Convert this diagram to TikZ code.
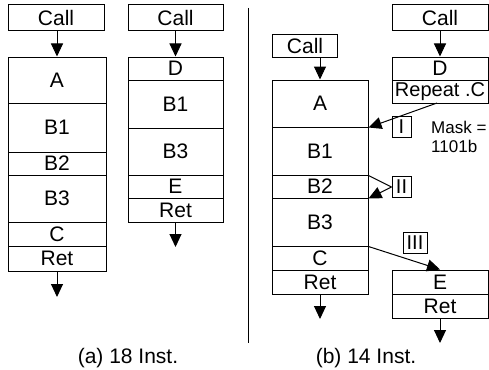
\documentclass[tikz,border=0pt]{standalone}
\usepackage{fontspec}
\setmainfont{Liberation Sans}
\usetikzlibrary{arrows.meta}
\begin{document}
\begin{tikzpicture}[x=1pt,y=-1pt,
  seg/.style={draw, line width=1pt, rectangle, inner sep=0pt, font=\fontsize{21}{22}\selectfont},
  tag/.style={draw, line width=1pt, rectangle, inner sep=0pt, minimum width=19pt, minimum height=21pt, font=\fontsize{20}{21}\selectfont},
  flow/.style={line width=1pt, -{Triangle[length=13pt,width=12pt]}},
  conn/.style={line width=1pt},
  captxt/.style={font=\fontsize{21}{22}\selectfont},
  masktxt/.style={font=\fontsize{17}{18}\selectfont, anchor=west, inner sep=0pt}]
\useasboundingbox (0,0) rectangle (489,369);
% ---------- (a) left stack
\node[seg, minimum width=96pt, minimum height=26pt] (ac) at (56,18) {Call};
\node[seg, minimum width=98pt, minimum height=46pt] (aA) at (57,80) {A};
\node[seg, minimum width=98pt, minimum height=49pt] (aB1) at (57,127.5) {B1};
\node[seg, minimum width=98pt, minimum height=23pt] (aB2) at (57,163.5) {B2};
\node[seg, minimum width=98pt, minimum height=47pt] (aB3) at (57,198.5) {B3};
\node[seg, minimum width=98pt, minimum height=24pt] (aC) at (57,234) {C};
\node[seg, minimum width=98pt, minimum height=25pt] (aR) at (57,258.5) {Ret};
\coordinate (aend) at (57,297);
\draw[flow] (ac.south -| aA.north) -- (aA.north);
\draw[flow] (aR.south) -- (aend);
% ---------- (a) right stack
\node[seg, minimum width=95pt, minimum height=26pt] (bc) at (175.5,18) {Call};
\node[seg, minimum width=95pt, minimum height=23pt] (bD) at (175.5,68.5) {D};
\node[seg, minimum width=95pt, minimum height=48pt] (bB1) at (175.5,104) {B1};
\node[seg, minimum width=95pt, minimum height=47pt] (bB3) at (175.5,151.5) {B3};
\node[seg, minimum width=95pt, minimum height=23pt] (bE) at (175.5,186.5) {E};
\node[seg, minimum width=95pt, minimum height=24pt] (bR) at (175.5,210) {Ret};
\coordinate (bend) at (175.5,247);
\draw[flow] (bc.south) -- (bD.north);
\draw[flow] (bR.south) -- (bend);
% ---------- divider
\coordinate (dv1) at (248,8);
\coordinate (dv2) at (248,343);
\draw[conn] (dv1) -- (dv2);
% ---------- (b) left stack
\node[seg, minimum width=65pt, minimum height=22pt] (cc) at (305,46) {Call};
\node[seg, minimum width=96pt, minimum height=47pt] (cA) at (320,103.5) {A};
\node[seg, minimum width=96pt, minimum height=48pt] (cB1) at (320,151) {B1};
\node[seg, minimum width=96pt, minimum height=23pt] (cB2) at (320,186.5) {B2};
\node[seg, minimum width=96pt, minimum height=48pt] (cB3) at (320,222) {B3};
\node[seg, minimum width=96pt, minimum height=24pt] (cC) at (320,258) {C};
\node[seg, minimum width=96pt, minimum height=24pt] (cR) at (320,282) {Ret};
\coordinate (cend) at (320,319);
\draw[flow] (cc.south -| cA.north) -- (cA.north);
\draw[flow] (cR.south) -- (cend);
% ---------- (b) right stack
\node[seg, minimum width=96pt, minimum height=26pt] (dc) at (440,18) {Call};
\node[seg, minimum width=96pt, minimum height=23pt] (dD) at (440,68.5) {D};
\node[seg, minimum width=96pt, minimum height=23pt, font=\fontsize{20}{21}\selectfont] (dRp) at (440,91.5) {Repeat .C};
\draw[flow] (dc.south) -- (dD.north);
% ---------- (b) lower right stack
\node[seg, minimum width=96pt, minimum height=24pt] (eE) at (440,282) {E};
\node[seg, minimum width=96pt, minimum height=24pt] (eR) at (440,306) {Ret};
\coordinate (eend) at (440,343);
\draw[flow] (eR.south) -- (eend);
% ---------- tags and connectors
\node[tag] (t1) at (401.5,127) {I};
\node[tag] (t2) at (401.5,187) {II};
\node[tag, minimum width=24pt] (t3) at (415,243) {III};
\coordinate (r1) at (437,103);
\draw[flow] (r1) -- (cA.south east);
\draw[conn] (cB1.south east) -- (t2.west);
\draw[flow] (t2.west) -- (cB2.south east);
\draw[flow] (cB3.south east) -- (eE.north);
% ---------- mask text
\node[masktxt] (m1) at (431,127) {Mask =};
\node[masktxt] (m2) at (431,146) {1101b};
% ---------- captions
\node[captxt] (ca) at (128,358) {(a) 18 Inst.};
\node[captxt] (cb) at (366,358) {(b) 14 Inst.};
\end{tikzpicture}
\end{document}
